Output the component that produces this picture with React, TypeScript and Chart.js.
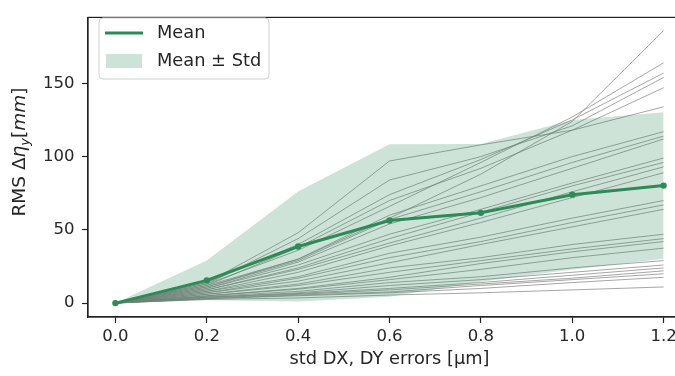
import React, { useEffect, useRef } from "react";
import { Chart, registerables } from "chart.js";

Chart.register(...registerables);

// ---------------- data ----------------
const XS = [0, 0.2, 0.4, 0.6, 0.8, 1.0, 1.2];
const MEAN = [0, 15.5, 38.6, 56.4, 61.6, 74, 80.2];
const STD = [0, 13.5, 37.5, 52, 47, 51, 50];

const RUN_01 = [0, 12, 30, 58, 88, 124, 186];
const RUN_02 = [0, 13, 36, 66, 96, 127, 164];
const RUN_03 = [0, 14, 40, 74, 98, 125, 157];
const RUN_04 = [0, 13, 44, 84, 100, 121, 154];
const RUN_05 = [0, 12, 38, 70, 92, 118, 147];
const RUN_06 = [0, 14, 48, 97, 108, 118, 134];
const RUN_07 = [0, 11, 30, 60, 80, 100, 117];
const RUN_08 = [0, 11, 29, 57, 76, 96, 114];
const RUN_09 = [0, 10, 28, 54, 72, 92, 112];
const RUN_10 = [0, 10, 26, 47, 64, 82, 99];
const RUN_11 = [0, 9, 24, 44, 62, 80, 96];
const RUN_12 = [0, 9, 23, 41, 58, 76, 93];
const RUN_13 = [0, 8, 21, 39, 55, 72, 89];
const RUN_14 = [0, 8, 18, 34, 45, 58, 70];
const RUN_15 = [0, 7, 17, 31, 42, 55, 67];
const RUN_16 = [0, 7, 15, 27.5, 40, 52, 64];
const RUN_17 = [0, 6, 13, 24, 31, 40, 47];
const RUN_18 = [0, 6, 12, 21, 29, 37, 44];
const RUN_19 = [0, 5, 10, 17.6, 27, 35, 42];
const RUN_20 = [0, 5, 9.5, 16, 23, 31, 37.5];
const RUN_21 = [0, 4.5, 8, 14, 18, 24, 29];
const RUN_22 = [0, 4, 7, 12, 16, 21, 26];
const RUN_23 = [0, 4, 6.5, 10, 14, 19, 24];
const RUN_24 = [0, 3.5, 6, 9, 13, 17, 22];
const RUN_25 = [0, 3, 5.5, 7.6, 12, 16, 20];
const RUN_26 = [0, 3, 5, 7, 10, 14, 17.6];
const RUN_27 = [0, 2.5, 3.5, 5.5, 7, 9, 11];

const RUNS = [
  RUN_01, RUN_02, RUN_03, RUN_04, RUN_05, RUN_06, RUN_07, RUN_08, RUN_09,
  RUN_10, RUN_11, RUN_12, RUN_13, RUN_14, RUN_15, RUN_16, RUN_17, RUN_18,
  RUN_19, RUN_20, RUN_21, RUN_22, RUN_23, RUN_24, RUN_25, RUN_26, RUN_27,
];

const X_TICKS = [0, 0.2, 0.4, 0.6, 0.8, 1.0, 1.2];
const Y_TICKS = [0, 50, 100, 150];

const X_TITLE = "std DX, DY errors [\u03bcm]";
const LEGEND_MEAN = "Mean";
const LEGEND_BAND = "Mean \u00b1 Std";

// ---------------- styles ----------------
const FAMILY = "'DejaVu Sans', sans-serif";
const TICK_SIZE = 16.5;
const LABEL_SIZE = 17.8;
const TEXT = "#262626";
const AXIS = "#222222";
const GREEN = "#2e8b57";
const BAND = "rgba(46,139,87,0.24)";
const GRAY = "rgba(128,128,128,0.7)";

const framePlugin = {
  id: "frame",
  afterDraw(chart: any) {
    const { ctx, chartArea: a } = chart;
    ctx.save();
    ctx.strokeStyle = AXIS;
    ctx.lineWidth = 1.2;
    ctx.strokeRect(a.left, a.top, a.right - a.left, a.bottom - a.top);
    ctx.restore();
  },
};

const legendPlugin = {
  id: "mplLegend",
  afterDraw(chart: any) {
    const ctx = chart.ctx;
    ctx.save();
    const x0 = 99, y0 = 18, w = 170, h = 61, r = 4;
    ctx.beginPath();
    ctx.moveTo(x0 + r, y0);
    ctx.lineTo(x0 + w - r, y0);
    ctx.quadraticCurveTo(x0 + w, y0, x0 + w, y0 + r);
    ctx.lineTo(x0 + w, y0 + h - r);
    ctx.quadraticCurveTo(x0 + w, y0 + h, x0 + w - r, y0 + h);
    ctx.lineTo(x0 + r, y0 + h);
    ctx.quadraticCurveTo(x0, y0 + h, x0, y0 + h - r);
    ctx.lineTo(x0, y0 + r);
    ctx.quadraticCurveTo(x0, y0, x0 + r, y0);
    ctx.closePath();
    ctx.fillStyle = "rgba(255,255,255,0.85)";
    ctx.fill();
    ctx.strokeStyle = "#d0d0d0";
    ctx.lineWidth = 1;
    ctx.stroke();

    // Mean line handle
    ctx.strokeStyle = GREEN;
    ctx.lineWidth = 3;
    ctx.beginPath();
    ctx.moveTo(105, 33);
    ctx.lineTo(143, 33);
    ctx.stroke();

    // band patch
    ctx.fillStyle = BAND;
    ctx.fillRect(106, 54, 36, 14);

    ctx.fillStyle = TEXT;
    ctx.font = `${LABEL_SIZE}px ${FAMILY}`;
    ctx.textAlign = "left";
    ctx.textBaseline = "middle";
    ctx.fillText(LEGEND_MEAN, 157, 33);
    ctx.fillText(LEGEND_BAND, 157, 61);
    ctx.restore();
  },
};

const yTitlePlugin = {
  id: "yTitle",
  afterDraw(chart: any) {
    const ctx = chart.ctx;
    const size = 18.5;
    const normal = `${size}px ${FAMILY}`;
    const italic = `italic ${size}px ${FAMILY}`;
    const sub = `italic 13px ${FAMILY}`;
    const parts = [
      { t: "RMS ", f: normal, dy: 0 },
      { t: "\u0394", f: normal, dy: 0 },
      { t: "\u03b7", f: italic, dy: 0 },
      { t: "y", f: sub, dy: 4 },
      { t: "[", f: normal, dy: 0 },
      { t: "mm", f: italic, dy: 0 },
      { t: "]", f: normal, dy: 0 },
    ];
    ctx.save();
    let total = 0;
    const widths = parts.map((p) => {
      ctx.font = p.f;
      const wd = ctx.measureText(p.t).width;
      total += wd;
      return wd;
    });
    ctx.translate(18, 152);
    ctx.rotate(-Math.PI / 2);
    ctx.fillStyle = TEXT;
    ctx.textAlign = "left";
    ctx.textBaseline = "alphabetic";
    let x = -total / 2;
    parts.forEach((p, i) => {
      ctx.font = p.f;
      ctx.fillText(p.t, x, 6.5 + p.dy);
      x += widths[i];
    });
    ctx.restore();
  },
};

export default function App() {
  const ref = useRef<HTMLCanvasElement | null>(null);

  useEffect(() => {
    const canvas = ref.current;
    if (!canvas) return;
    const toPts = (ys: number[]) => XS.map((x, i) => ({ x, y: ys[i] }));
    const upper = MEAN.map((m, i) => m + STD[i]);
    const lower = MEAN.map((m, i) => m - STD[i]);

    const datasets: any[] = [
      {
        label: LEGEND_MEAN,
        data: toPts(MEAN),
        borderColor: GREEN,
        backgroundColor: GREEN,
        borderWidth: 3,
        pointRadius: 3.2,
        pointBorderWidth: 0,
        pointBackgroundColor: GREEN,
        fill: false,
        order: 0,
      },
      {
        label: LEGEND_BAND,
        data: toPts(upper),
        borderColor: "rgba(0,0,0,0)",
        borderWidth: 1,
        pointRadius: 0,
        backgroundColor: BAND,
        fill: { target: "+1" },
        order: 1,
      },
      {
        label: "lower",
        data: toPts(lower),
        borderColor: "rgba(0,0,0,0)",
        borderWidth: 1,
        pointRadius: 0,
        fill: false,
        order: 1,
      },
      ...RUNS.map((r, i) => ({
        label: `run ${i + 1}`,
        data: toPts(r),
        borderColor: GRAY,
        borderWidth: 1,
        pointRadius: 0,
        fill: false,
        order: 2,
      })),
    ];

    const tickFont = { family: FAMILY, size: TICK_SIZE };
    const labelFont = { family: FAMILY, size: LABEL_SIZE };

    const chart = new Chart(canvas, {
      type: "line",
      data: { datasets },
      options: {
        animation: false,
        responsive: false,
        devicePixelRatio: 1,
        layout: { padding: { left: 0, top: 8, right: 9, bottom: 0 } },
        plugins: {
          legend: { display: false },
          tooltip: { enabled: false },
          filler: { drawTime: "beforeDatasetDraw" } as any,
        },
        elements: { line: { tension: 0 } },
        scales: {
          x: {
            type: "linear",
            min: -0.06,
            max: 1.26,
            afterBuildTicks: (s: any) => {
              s.ticks = X_TICKS.map((v) => ({ value: v }));
            },
            afterFit: (s: any) => {
              s.height = 59;
            },
            ticks: {
              autoSkip: false,
              maxRotation: 0,
              padding: 4,
              color: TEXT,
              font: tickFont,
              callback: (v: any) => Number(v).toFixed(1),
            },
            grid: {
              drawOnChartArea: false,
              drawTicks: true,
              tickLength: 6,
              tickWidth: 1.2,
              tickColor: AXIS,
            },
            border: { display: true, color: AXIS, width: 1.2 },
            title: {
              display: true,
              text: X_TITLE,
              color: TEXT,
              font: labelFont,
              padding: { top: 0, bottom: 6 },
            },
          },
          y: {
            type: "linear",
            min: -9.5,
            max: 195,
            afterBuildTicks: (s: any) => {
              s.ticks = Y_TICKS.map((v) => ({ value: v }));
            },
            afterFit: (s: any) => {
              s.width = 88;
            },
            ticks: {
              padding: 7.5,
              color: TEXT,
              font: tickFont,
              callback: (v: any) => String(v),
            },
            grid: {
              drawOnChartArea: false,
              drawTicks: true,
              tickLength: 6,
              tickWidth: 1.2,
              tickColor: AXIS,
            },
            border: { display: true, color: AXIS, width: 1.2 },
          },
        },
      },
      plugins: [framePlugin, legendPlugin, yTitlePlugin],
    } as any);

    return () => chart.destroy();
  }, []);

  return (
    <div
      style={{
        position: "fixed",
        left: 0,
        top: 0,
        width: 675,
        height: 376,
        overflow: "hidden",
        background: "#ffffff",
      }}
    >
      <canvas ref={ref} width={700} height={376} style={{ display: "block" }} />
    </div>
  );
}
